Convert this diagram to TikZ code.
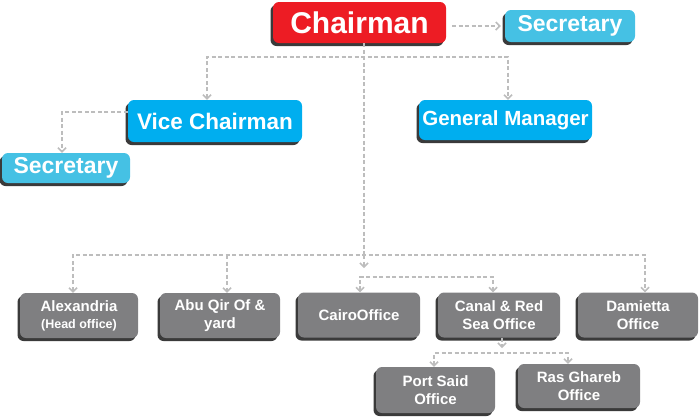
\documentclass[tikz,border=0pt]{standalone}
\usepackage{fontspec}
\setmainfont{Liberation Sans}
\usetikzlibrary{arrows.meta,shadows}
\definecolor{chred}{HTML}{ED1C24}
\definecolor{vblue}{HTML}{00AEEF}
\definecolor{sblue}{HTML}{45C1E4}
\definecolor{bgray}{HTML}{7F7F81}
\definecolor{shadowc}{HTML}{3A3A3A}
\definecolor{linec}{HTML}{BDBDBD}
\begin{document}
\begin{tikzpicture}[x=1pt,y=-1pt,
  box/.style={rounded corners=6pt, text=white, align=center, inner sep=0pt,
    drop shadow={shadow xshift=-2.5pt, shadow yshift=-3pt, opacity=1, fill=shadowc}},
  bigbox/.style={box, font=\bfseries\fontsize{23}{26}\selectfont},
  office/.style={box, fill=bgray, minimum width=120pt, minimum height=45pt,
    font=\bfseries\fontsize{15}{18}\selectfont},
  conn/.style={draw=linec, line width=1.5pt, dash pattern=on 4pt off 2.5pt,
    -{Straight Barb[length=4pt,width=8pt,line width=1.5pt]}},
  conn2/.style={conn, {Straight Barb[length=4pt,width=8pt,line width=1.5pt]}-{Straight Barb[length=4pt,width=8pt,line width=1.5pt]}},
  plain/.style={draw=linec, line width=1.5pt, dash pattern=on 4pt off 2.5pt}]
\useasboundingbox (0,0) rectangle (700,416);

% top level
\node[box, fill=chred, minimum width=173pt, minimum height=41pt,
  font=\bfseries\fontsize{30}{32}\selectfont] (chair) at (359.5,22.5) {Chairman};
\node[bigbox, fill=sblue, minimum width=130pt, minimum height=32pt] (sec1) at (570,26) {Secretary};
\node[bigbox, fill=vblue, minimum width=174pt, minimum height=42pt,
  font=\bfseries\fontsize{22.5}{26}\selectfont] (vice) at (215,121) {Vice Chairman};
\node[bigbox, fill=vblue, minimum width=173pt, minimum height=40pt,
  font=\bfseries\fontsize{20.5}{24}\selectfont] (gm) at (505.5,120) {General Manager};
\node[bigbox, fill=sblue, minimum width=128pt, minimum height=30pt] (sec2) at (66,168) {Secretary};

% offices
\node[office, minimum width=118pt] (alex) at (79,315.5) {Alexandria\\[-1pt]{\fontsize{12.5}{14}\selectfont(Head office)}};
\node[office] (abu) at (220,315.5) {Abu Qir Of \&\\yard};
\node[office, minimum width=122pt] (cairo) at (359,315) {CairoOffice};
\node[office, minimum width=122pt] (canal) at (499,315) {Canal \& Red\\Sea Office};
\node[office] (dam) at (638,315) {Damietta\\Office};
\node[office, minimum width=119pt, minimum height=46pt] (ps) at (435.5,390) {Port Said\\Office};
\node[office, minimum width=122pt, minimum height=44pt] (ras) at (579,386) {Ras Ghareb\\Office};

% junctions
\coordinate (j1) at (364,57);
\coordinate (j2) at (364,255);
\coordinate (j3) at (364,268);
\coordinate (j4) at (420,277);
\coordinate (j5) at (502,348);
\coordinate (j6) at (502,353);

% connectors
\draw[conn, shorten <=6pt, shorten >=4pt] (chair.east |- sec1.west) -- (sec1.west);
\draw[plain] (chair.south -| j1) -- (j2);
\draw[conn2] ([xshift=-8pt]vice.north) |- (j1) -| ([xshift=2.5pt]gm.north);
\draw[conn] ([yshift=9pt]vice.west) -| ([xshift=-4pt]sec2.north);
\draw[conn2] ([xshift=-6pt]alex.north) |- (j2) -| ([xshift=7pt]dam.north);
\draw[conn] ([xshift=7pt]abu.north |- j2) -- ([xshift=7pt]abu.north);
\draw[conn] (j2) -- (j3);
\draw[conn2] ([xshift=1pt]cairo.north) |- (j4) -| ([xshift=-6pt]canal.north);
\draw[conn] ([xshift=3pt]canal.south) -- (j5);
\draw[conn2] ([xshift=-1.5pt]ps.north) |- (j6) -| ([xshift=-11pt]ras.north);
\end{tikzpicture}
\end{document}
